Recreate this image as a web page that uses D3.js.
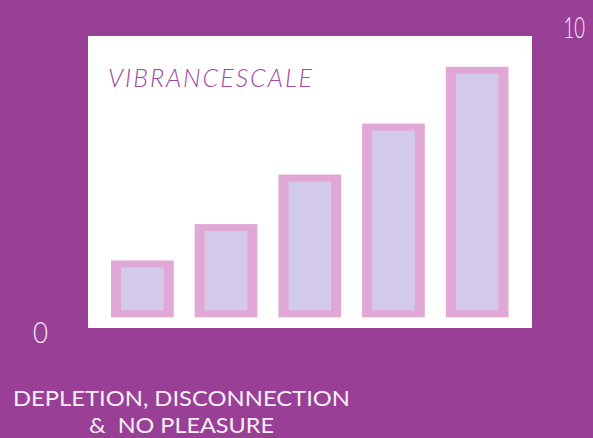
<!DOCTYPE html>
<html>
<head>
<meta charset="utf-8">
<script src="https://cdn.jsdelivr.net/npm/d3@7"></script>
<style>
  html, body { margin: 0; padding: 0; background: #9a3f96; }
  svg { display: block; }
</style>
</head>
<body>
<svg id="chart" width="593" height="438"></svg>
<script>
// ---- data ----
const categories = ["1", "2", "3", "4", "5"];
const values = [1.95, 3.2, 4.9, 6.65, 8.6];
const yTickLabels = ["0", "10"];
const title = "VIBRANCESCALE";
const captionLines = ["DEPLETION, DISCONNECTION", "&  NO PLEASURE"];

const W = 593, H = 438;
const svg = d3.select("#chart");

svg.append("rect").attr("x", 0).attr("y", 0).attr("width", W).attr("height", H).attr("fill", "#9a3f96");

// white panel
svg.append("rect").attr("x", 88).attr("y", 36).attr("width", 444).attr("height", 292).attr("fill", "#ffffff");

const x = d3.scaleBand().domain(categories)
  .range([111, 111 + 83.7 * 5 - 21]).paddingInner(21 / 83.7).paddingOuter(0);

const y = d3.scaleLinear().domain([0, 10]).range([317.3, 26]);

const bars = svg.append("g");
bars.selectAll("rect.outer").data(values).join("rect")
  .attr("class", "outer")
  .attr("x", (d, i) => x(categories[i]))
  .attr("y", d => y(d))
  .attr("width", x.bandwidth())
  .attr("height", d => y(0) - y(d))
  .attr("fill", "#e2a8d5");
const bh = 10, bv = 7;
bars.selectAll("rect.inner").data(values).join("rect")
  .attr("class", "inner")
  .attr("x", (d, i) => x(categories[i]) + bh)
  .attr("y", d => y(d) + bv)
  .attr("width", x.bandwidth() - 2 * bh)
  .attr("height", d => y(0) - y(d) - 2 * bv)
  .attr("fill", "#d3c9eb");

// title
svg.append("text")
  .attr("x", 108).attr("y", 87.3)
  .attr("font-family", "Lato").attr("font-weight", 300).attr("font-style", "italic")
  .attr("font-size", 25)
  .attr("textLength", 204).attr("lengthAdjust", "spacing")
  .attr("fill", "#a04aa2")
  .text(title);

// axis labels (0 and 10), horizontally condensed via transform
function condensed(txt, x0, baseline, targetW) {
  const t = svg.append("text")
    .attr("x", 0).attr("y", 0)
    .attr("font-family", "Lato").attr("font-weight", 300)
    .attr("font-size", 30)
    .attr("fill", "#f3eaf3")
    .text(txt);
  const w = t.node().getComputedTextLength();
  t.attr("transform", `translate(${x0},${baseline}) scale(${targetW / w},1)`);
}
condensed(yTickLabels[0], 33, 342.5, 15);
condensed(yTickLabels[1], 563.5, 37.5, 21.5);

// caption
svg.append("text")
  .attr("x", 13).attr("y", 406)
  .attr("font-family", "Lato").attr("font-weight", 400)
  .attr("font-size", 22)
  .attr("textLength", 337).attr("lengthAdjust", "spacingAndGlyphs")
  .attr("fill", "#f6eef6")
  .text(captionLines[0]);
svg.append("text")
  .attr("x", 89).attr("y", 433)
  .attr("font-family", "Lato").attr("font-weight", 400)
  .attr("font-size", 22)
  .attr("textLength", 185).attr("lengthAdjust", "spacingAndGlyphs")
  .attr("fill", "#f6eef6")
  .attr("xml:space", "preserve")
  .style("white-space", "pre")
  .text(captionLines[1]);
</script>
</body>
</html>
